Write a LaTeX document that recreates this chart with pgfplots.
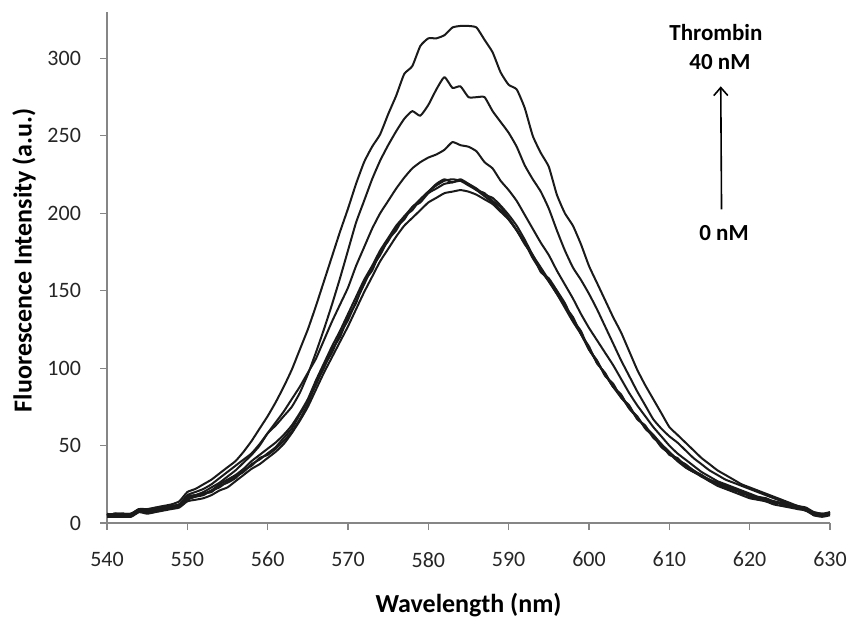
\documentclass[border=0pt]{standalone}
\usepackage{pgfplots}
\usepackage{pgfplotstable}
\pgfplotsset{compat=1.18}
\usepackage{fontspec}
\setmainfont{Carlito}
\usetikzlibrary{arrows.meta}

\definecolor{axisgray}{HTML}{868686}
\definecolor{curve}{HTML}{1A1A1A}

% Emission spectra, one column per thrombin concentration (a = 0 nM ... g = 40 nM)
\pgfplotstableread{
wl  a   b   c   d   e   f   g
540 4   5   6   5   5   5   5
541 4   6   5   5   6   6   6
542 4   5   6   5   5   6   6
543 4   5   5   6   6   6   6
544 7   9   8   8   8   9   9
545 6   7   8   7   8   8   9
546 7   8   8   9   9   9   10
547 8   10  9   9   10  10  11
548 9   10  11  10  11  11  12
549 10  11  11  12  12  12  14
550 14  16  15  17  17  18  20
551 15  17  17  18  18  20  22
552 16  18  19  19  20  22  25
553 18  21  20  21  23  25  28
554 21  23  24  25  26  29  32
555 23  27  26  28  30  33  36
556 27  30  29  31  34  37  40
557 31  33  34  35  39  41  46
558 35  38  37  40  44  45  53
559 38  41  42  44  50  51  61
560 42  45  44  48  58  58  69
561 46  49  48  52  65  63  78
562 51  55  53  57  72  69  88
563 58  61  59  63  80  75  99
564 66  70  67  71  88  84  112
565 75  79  77  80  97  96  125
566 86  89  90  92  106 110 140
567 97  101 100 103 118 125 156
568 107 110 112 114 130 141 172
569 117 122 120 124 141 158 188
570 127 131 133 135 152 176 203
571 138 143 142 146 166 194 219
572 149 154 156 157 178 208 233
573 159 165 163 166 190 222 243
574 169 173 175 176 200 234 251
575 177 183 182 184 208 244 264
576 185 189 191 192 216 253 276
577 192 198 196 198 223 261 290
578 197 202 204 204 229 266 295
579 202 209 207 209 233 263 308
580 207 214 213 214 236 270 313
581 210 219 216 218 238 280 313
582 213 222 219 221 241 288 315
583 214 220 220 222 246 281 320
584 215 222 221 221 244 282 321
585 214 219 219 218 243 275 321
586 212 215 216 215 240 275 320
587 209 213 212 211 233 275 312
588 206 208 210 207 229 266 304
589 201 204 205 202 221 259 291
590 196 197 199 196 215 252 283
591 189 189 192 189 208 243 280
592 181 180 183 181 199 231 268
593 172 173 173 171 190 222 250
594 164 162 165 163 181 214 239
595 156 158 157 156 173 203 230
596 148 150 150 148 163 189 212
597 139 140 142 140 154 176 200
598 130 133 131 132 145 165 192
599 122 122 124 122 135 157 180
600 113 114 112 112 126 148 166
601 104 103 105 104 118 138 155
602 96  97  95  96  110 127 144
603 88  88  90  88  102 116 133
604 81  83  81  82  93  105 123
605 75  74  76  74  84  95  111
606 68  69  67  68  76  85  99
607 62  61  63  62  69  76  89
608 56  56  55  57  62  67  80
609 50  49  51  51  56  61  71
610 45  45  44  46  50  56  62
611 40  41  42  41  45  52  57
612 36  36  37  38  41  47  52
613 33  33  34  34  37  42  47
614 30  31  30  31  33  38  42
615 27  27  28  28  30  34  38
616 24  26  25  26  27  31  34
617 22  23  23  24  25  28  31
618 20  22  21  22  23  26  28
619 18  19  20  20  21  24  25
620 16  18  17  18  19  22  23
621 15  16  16  16  17  20  21
622 14  16  14  15  16  18  19
623 12  13  14  14  14  16  17
624 11  13  12  12  13  14  15
625 10  11  11  11  11  12  13
626 9   10  9   10  10  11  11
627 8   8   9   8   9   9   10
628 5   6   5   6   6   7   7
629 4   5   5   5   5   6   6
630 5   6   7   6   6   6   7
}\spectra

\tikzset{spectrum/.style={draw=curve, line width=1pt, line join=round, mark=none, solid, smooth, tension=0.3}}

\begin{document}
\begin{tikzpicture}[x=1pt,y=1pt]
\useasboundingbox (-53.5,-47) rectangle (371,261.5);
\begin{axis}[
  at={(0,0)}, anchor=south west,
  scale only axis, width=361.5pt, height=255.5pt,
  xmin=540, xmax=630, ymin=0, ymax=330,
  axis x line=bottom, axis y line=left,
  axis line style={-, draw=axisgray, line width=0.6pt},
  xtick={540,550,...,630}, ytick={0,50,...,300},
  tick align=outside, major tick length=3.5pt,
  tick style={draw=axisgray, line width=0.6pt},
  minor tick num=0,
  ticklabel style={font=\fontsize{11}{13}\selectfont, text=black!85},
  yticklabel style={xshift=-6pt},
  xticklabel style={yshift=-7.5pt},
  /pgf/number format/assume math mode=true,
  /pgf/number format/1000 sep={},
  xlabel={Wavelength (nm)},
  ylabel={Fluorescence Intensity (a.u.)},
  label style={font=\fontsize{13}{15}\selectfont\bfseries},
  xlabel style={at={(axis description cs:0.5,-0.1605)}, anchor=center},
  ylabel style={at={(axis description cs:-0.1148,0.514)}, anchor=center},
  clip=false,
]
\addplot[spectrum] table[x=wl, y=a] {\spectra};
\addplot[spectrum] table[x=wl, y=b] {\spectra};
\addplot[spectrum] table[x=wl, y=c] {\spectra};
\addplot[spectrum] table[x=wl, y=d] {\spectra};
\addplot[spectrum] table[x=wl, y=e] {\spectra};
\addplot[spectrum] table[x=wl, y=f] {\spectra};
\addplot[spectrum] table[x=wl, y=g] {\spectra};

\node[font=\fontsize{11.5}{13}\selectfont\bfseries] at (axis cs:615.8,317) {Thrombin};
\node[font=\fontsize{11.5}{13}\selectfont\bfseries] at (axis cs:616.3,297.5) {40 nM};
\node[font=\fontsize{11.5}{13}\selectfont\bfseries] at (axis cs:616.8,187.5) {0 nM};
\draw[black, line width=0.8pt, -{Straight Barb[length=4pt, width=7pt]}]
  (axis cs:616.5,202.5) -- (axis cs:616.4,282);
\end{axis}
\end{tikzpicture}
\end{document}
